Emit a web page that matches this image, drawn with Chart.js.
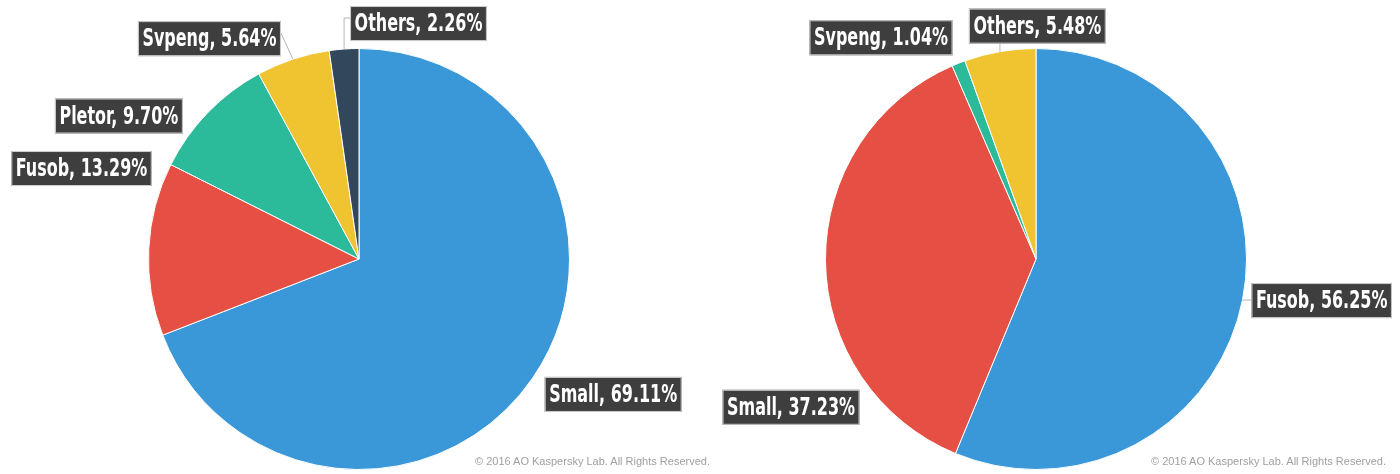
<!DOCTYPE html>
<html>
<head>
<meta charset="utf-8">
<script src="https://cdn.jsdelivr.net/npm/chart.js@4/dist/chart.umd.min.js"></script>
<style>
  html, body { margin: 0; padding: 0; background: #fff; }
  body { width: 1400px; height: 474px; position: relative; overflow: hidden; }
  .pane { position: absolute; top: 0; width: 760px; height: 474px; }
  .copy { position: absolute; top: 455px; font: 11px "Liberation Sans", Arial, sans-serif; color: #a0a0a0; white-space: nowrap; }
</style>
</head>
<body>
<div class="pane" style="left:0"><canvas id="pieLeft"></canvas></div>
<div class="pane" style="left:640px"><canvas id="pieRight"></canvas></div>
<div class="copy" style="left:475px">© 2016 AO Kaspersky Lab. All Rights Reserved.</div>
<div class="copy" style="left:1151px">© 2016 AO Kaspersky Lab. All Rights Reserved.</div>
<script>
// left pie
const leftLabels = ['Small', 'Fusob', 'Pletor', 'Svpeng', 'Others'];
const leftValues = [69.11, 13.29, 9.70, 5.64, 2.26];
const leftColors = ['#3a98d9', '#e54f44', '#2bbb9a', '#f0c331', '#33475c'];

// right pie
const rightLabels = ['Fusob', 'Small', 'Svpeng', 'Others'];
const rightValues = [56.25, 37.23, 1.04, 5.48];
const rightColors = ['#3a98d9', '#e54f44', '#2bbb9a', '#f0c331'];

// callout placement relative to the slice's outer mid point
const leftCallouts = [
    { side: 'right', dx: 12, dy: -1, leader: 'none' },
    { side: 'left', dx: 3, dy: -98, leader: 'none' },
    { side: 'left', dx: -25, dy: -14, leader: 'none' },
    { side: 'left', dx: -12, dy: -38, leader: 'side', ty: 12 },
    { side: 'right', dx: 6, dy: -43, leader: 'elbow', ty: 12 }
];
const rightCallouts = [
    { side: 'right', dx: 9, dy: -17, leader: 'side', ty: 17 },
    { side: 'left', dx: 34, dy: 129, leader: 'none' },
    { side: 'left', dx: -6, dy: -43, leader: 'none' },
    { side: 'right', dx: -31, dy: -43, leader: 'down' }
];

const LABEL_FONT = 'bold 25px "DejaVu Sans Condensed", "DejaVu Sans", sans-serif';
const SQUEEZE = 0.71; // condensed look of the original label face

const calloutPlugin = {
    id: 'callouts',
    afterDatasetsDraw(chart) {
        const ctx = chart.ctx;
        const meta = chart.getDatasetMeta(0);
        const values = chart.data.datasets[0].data;
        const layout = chart.options.plugins.callouts.layout;
        ctx.save();
        ctx.font = LABEL_FONT;
        meta.data.forEach((arc, i) => {
            const mid = (arc.startAngle + arc.endAngle) / 2;
            const ax = arc.x + Math.cos(mid) * arc.outerRadius;
            const ay = arc.y + Math.sin(mid) * arc.outerRadius;
            const cfg = layout[i];
            const text = chart.data.labels[i] + ', ' + values[i].toFixed(2) + '%';
            const tw = ctx.measureText(text).width * SQUEEZE;
            const w = tw + 9;
            const h = 35;
            const left = cfg.side === 'right' ? ax + cfg.dx : ax + cfg.dx - w;
            const top = ay + cfg.dy;

            // leader line
            ctx.strokeStyle = '#b5b5b5';
            ctx.lineWidth = 1;
            ctx.beginPath();
            if (cfg.leader === 'side') {
                const ex = cfg.side === 'right' ? left : left + w;
                ctx.moveTo(ax, ay);
                ctx.lineTo(ex, top + cfg.ty);
            } else if (cfg.leader === 'elbow') {
                const ex = cfg.side === 'right' ? left : left + w;
                ctx.moveTo(ax, ay);
                ctx.lineTo(ax, top + cfg.ty);
                ctx.lineTo(ex, top + cfg.ty);
            } else if (cfg.leader === 'down') {
                ctx.moveTo(ax, ay);
                ctx.lineTo(ax, top + h);
            }
            ctx.stroke();

            ctx.fillStyle = '#3e3e3e';
            ctx.fillRect(left, top, w, h);
            ctx.strokeStyle = '#cfcfcf';
            ctx.strokeRect(left + 0.5, top + 0.5, w - 1, h - 1);

            ctx.save();
            ctx.translate(left + 4.5, top + h / 2 + 1);
            ctx.scale(SQUEEZE, 1);
            ctx.fillStyle = '#ffffff';
            ctx.textBaseline = 'middle';
            ctx.textAlign = 'left';
            ctx.fillText(text, 0, 0);
            ctx.restore();
        });
        ctx.restore();
    }
};

function renderPie(canvasId, labels, values, colors, callouts, padding) {
    const ctx = document.getElementById(canvasId).getContext('2d');
    return new Chart(ctx, {
        type: 'pie',
        data: {
            labels: labels,
            datasets: [{
                data: values,
                backgroundColor: colors,
                borderColor: '#ffffff',
                borderWidth: 1
            }]
        },
        options: {
            responsive: true,
            maintainAspectRatio: false,
            animation: false,
            layout: { padding: padding },
            plugins: {
                legend: { display: false },
                tooltip: { enabled: false },
                callouts: { layout: callouts }
            }
        },
        plugins: [calloutPlugin]
    });
}

renderPie('pieLeft', leftLabels, leftValues, leftColors, leftCallouts,
    { left: 148, right: 190, top: 48, bottom: 4 });
renderPie('pieRight', rightLabels, rightValues, rightColors, rightCallouts,
    { left: 185, right: 153, top: 48, bottom: 4 });
</script>
</body>
</html>
